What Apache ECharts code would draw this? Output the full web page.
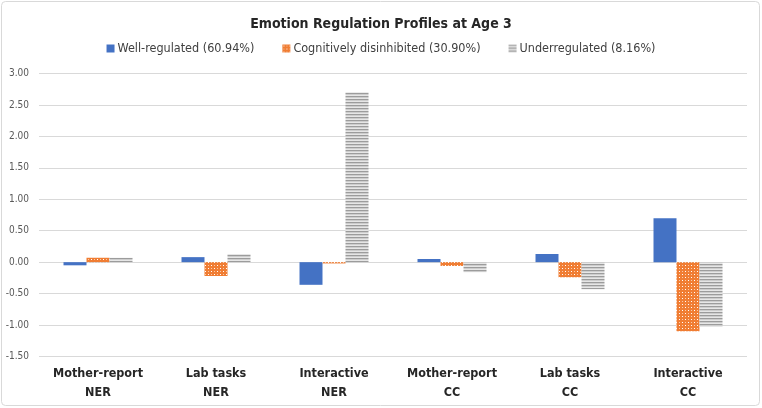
<!DOCTYPE html>
<html>
<head>
<meta charset="utf-8">
<script src="https://cdn.jsdelivr.net/npm/echarts@6/dist/echarts.min.js"></script>
<style>
html,body{margin:0;padding:0;background:#fff;}
#c{width:762px;height:408px;}
</style>
</head>
<body>
<div id="c"></div>
<script>
var categories = ['Mother-report\nNER', 'Lab tasks\nNER', 'Interactive\nNER', 'Mother-report\nCC', 'Lab tasks\nCC', 'Interactive\nCC'];
var seriesNames = ['Well-regulated (60.94%)', 'Cognitively disinhibited (30.90%)', 'Underregulated (8.16%)'];
var wellRegulated = [-0.05, 0.08, -0.36, 0.05, 0.13, 0.70];
var cognDisinhibited = [0.07, -0.22, -0.02, -0.06, -0.24, -1.10];
var underregulated = [0.07, 0.13, 2.70, -0.16, -0.43, -1.03];
var yTicks = {min: -1.5, max: 3, interval: 0.5};

function dotPattern() {
  var c = document.createElement('canvas');
  c.width = 6; c.height = 6;
  var g = c.getContext('2d');
  g.fillStyle = '#F07D33'; g.fillRect(0, 0, 6, 6);
  g.fillStyle = '#FFFFFF';
  g.fillRect(1, 1, 1, 1);
  g.fillRect(4, 4, 1, 1);
  g.fillStyle = '#F9C9A8';
  g.fillRect(4, 1, 1, 1);
  g.fillRect(1, 4, 1, 1);
  return c;
}
function linePattern() {
  var c = document.createElement('canvas');
  c.width = 4; c.height = 3;
  var g = c.getContext('2d');
  g.fillStyle = '#9C9C9C'; g.fillRect(0, 0, 4, 1);
  g.fillStyle = '#CDCDCD'; g.fillRect(0, 1, 4, 1);
  g.fillStyle = '#E6E6E6'; g.fillRect(0, 2, 4, 1);
  return c;
}

var chart = echarts.init(document.getElementById('c'), null, {renderer: 'canvas'});
var font = '"Liberation Sans Narrow", "DejaVu Sans Condensed", "Open Sans", sans-serif';
var colors = ['#4472C4', {image: dotPattern(), repeat: 'repeat'}, {image: linePattern(), repeat: 'repeat'}];
var dataSets = [wellRegulated, cognDisinhibited, underregulated];

chart.setOption({
  animation: false,
  backgroundColor: '#fff',
  graphic: [{
    type: 'rect',
    shape: {x: 1.5, y: 1.5, width: 758, height: 404, r: 4},
    style: {fill: 'none', stroke: '#D9D9D9', lineWidth: 1},
    silent: true
  }],
  title: {
    text: 'Emotion Regulation Profiles at Age 3',
    left: 'center',
    top: 12,
    textStyle: {fontFamily: font, fontWeight: 'bold', fontSize: 14, color: '#262626'}
  },
  legend: {
    top: 37,
    left: 'center',
    itemWidth: 8,
    itemHeight: 8,
    itemGap: 28,
    icon: 'rect',
    textStyle: {fontFamily: font, fontSize: 12.5, color: '#404040', padding: [0, 0, 0, -2]},
    data: seriesNames
  },
  grid: {left: 39, right: 15, top: 73.5, bottom: 51.5, containLabel: false},
  xAxis: {
    type: 'category',
    data: categories,
    axisLine: {show: false, onZero: false},
    axisTick: {show: false},
    axisLabel: {
      interval: 0,
      margin: 8,
      fontFamily: font,
      fontWeight: 'bold',
      fontSize: 12.5,
      lineHeight: 19,
      color: '#262626'
    }
  },
  yAxis: {
    type: 'value',
    min: yTicks.min,
    max: yTicks.max,
    interval: yTicks.interval,
    axisLine: {show: false},
    axisTick: {show: false},
    splitLine: {lineStyle: {color: '#D9D9D9', width: 1}},
    axisLabel: {
      margin: 10,
      fontFamily: font,
      fontSize: 10,
      color: '#595959',
      formatter: function (v) { return v.toFixed(2); }
    }
  },
  series: seriesNames.map(function (n, i) {
    return {
      name: n,
      type: 'bar',
      data: dataSets[i],
      barWidth: 23,
      barGap: '0%',
      itemStyle: {color: colors[i]}
    };
  })
});
</script>
</body>
</html>
